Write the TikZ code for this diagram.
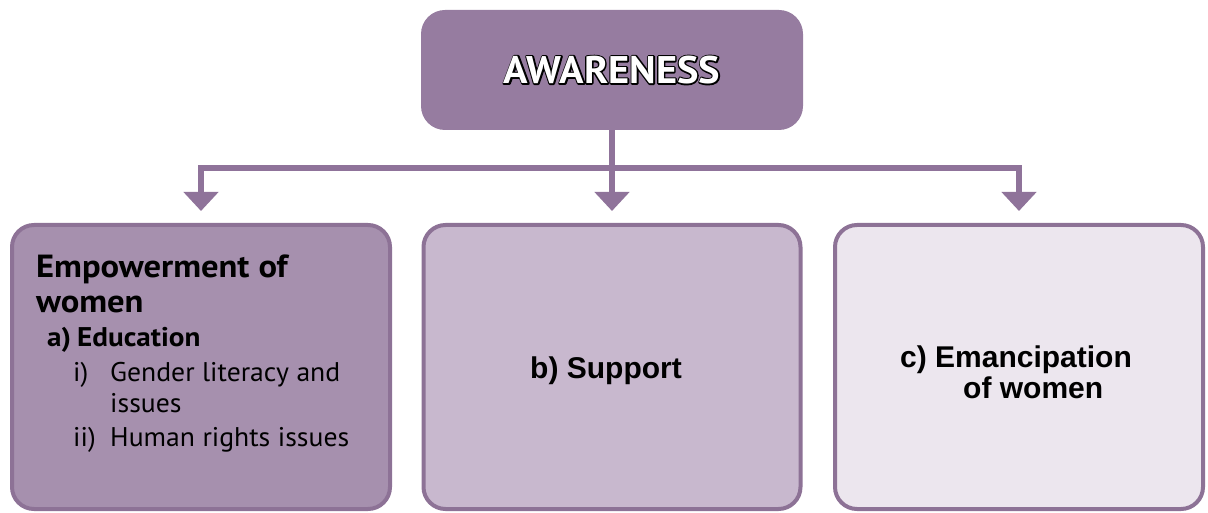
\documentclass[tikz,border=0pt]{standalone}
\usepackage{fontspec}
\setmainfont{PT Sans}
\newfontfamily\headfont[FakeStretch=1.05]{PT Sans}
\newfontfamily\empfont[FakeStretch=1.08]{PT Sans}
\newfontfamily\itemfont[FakeStretch=1.025]{PT Sans}
\newfontfamily\arialfont{Liberation Sans}
\usetikzlibrary{arrows.meta}
\definecolor{topfill}{HTML}{967CA0}
\definecolor{linkc}{HTML}{8F739A}
\definecolor{edge}{HTML}{8D7296}
\definecolor{leftfill}{HTML}{A690AE}
\definecolor{midfill}{HTML}{C8B8CE}
\definecolor{rightfill}{HTML}{ECE6EE}
% white letters with a black outline: a stroked layer under a filled one
\newcommand\outlined[1]{\rlap{\special{pdf:literal direct 0 0 0 RG 2.8 w 1 j 1 Tr}#1\special{pdf:literal direct 0 Tr}}\textcolor{white}{#1}}
\begin{document}
\begin{tikzpicture}[x=1pt,y=-1pt]
\tikzset{
  card/.style={rounded corners=22pt, line width=4pt, draw=edge},
  link/.style={draw=linkc, line width=6pt, line join=miter,
    -{Triangle[width=34pt,length=19pt]}, shorten >=12pt},
  armfont/.style={font=\arialfont\bfseries\fontsize{30}{31}\selectfont, inner sep=0pt, anchor=base west}
}
\useasboundingbox (0,0) rectangle (1208,513);

% header box
\node[fill=topfill, rounded corners=24pt, minimum width=382pt, minimum height=120pt,
      font=\headfont\bfseries\fontsize{38.5}{38.5}\selectfont] (aw) at (612,70)
  {\outlined{AWARENESS}};

% three branch boxes
\node[card, fill=leftfill, minimum width=378pt, minimum height=284pt] (emp) at (201,367) {};
\node[card, fill=midfill, minimum width=377pt, minimum height=284pt] (sup) at (612,367) {};
\node[card, fill=rightfill, minimum width=368pt, minimum height=284pt] (eman) at (1019,367) {};

% contents of the first box
\node[anchor=base west, inner sep=0pt, text width=350pt, align=left] (emptext) at (36,277) {%
  \empfont\bfseries\fontsize{32}{35.7}\selectfont\spaceskip=9pt plus 2pt
  Empowerment of\par
  women\par
  \fontsize{27}{34.3}\selectfont\spaceskip=6pt plus 2pt
  \hspace*{11pt}a) Education\par
  \itemfont\mdseries\fontsize{27}{34.7}\selectfont\spaceskip=7.5pt plus 2pt
  \hspace*{37pt}\makebox[37pt][l]{i)}Gender literacy and\par
  \baselineskip=31.3pt
  \hspace*{74pt}issues\par
  \baselineskip=33.7pt
  \hspace*{37pt}\makebox[37pt][l]{ii)}Human rights issues\par};

% contents of the other two boxes
\node[armfont] (suptext) at (530,378) {b) Support};
\node[armfont] (emantexta) at (900,367) {c) Emancipation};
\node[armfont] (emantextb) at (963,398) {of women};

% connectors
\draw[link] (aw.south) -- ++(0,37.5) -| (emp.north);
\draw[link] (aw.south) -- (sup.north);
\draw[link] (aw.south) -- ++(0,37.5) -| (eman.north);
\end{tikzpicture}
\end{document}
